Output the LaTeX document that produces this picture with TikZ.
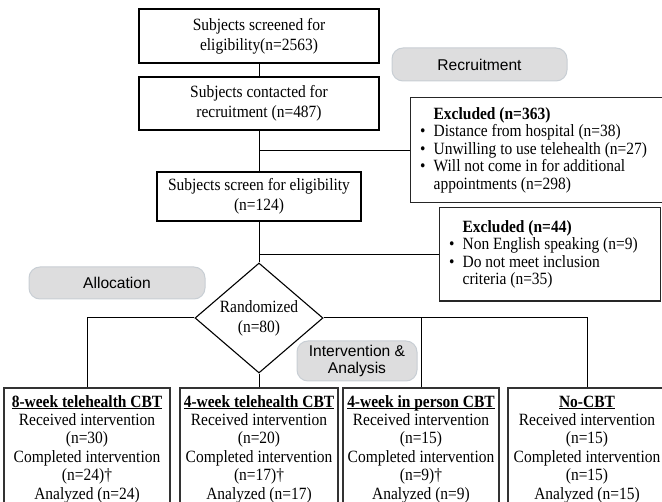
\documentclass[tikz,border=0pt]{standalone}
\usepackage{fontspec}
\setmainfont{Liberation Serif}[FakeStretch=0.9]
\setsansfont{Liberation Sans}
\usetikzlibrary{shapes.geometric}

\definecolor{phasefill}{RGB}{221,221,222}
\definecolor{phaseline}{RGB}{200,206,212}

% underlined arm title, rule close to the baseline
\newcommand{\armtitle}[1]{\underline{\smash{\textbf{#1}}}\strut}

\begin{document}
\begin{tikzpicture}[x=1pt,y=-1pt,
    font=\fontsize{17.2}{19.8}\selectfont,
    stagebox/.style={draw, line width=1.1pt, align=center, inner sep=0pt},
    exclbox/.style={draw=black!85, line width=1.3pt, anchor=north west, align=left,
        inner xsep=23pt, font=\fontsize{17.2}{17.6}\selectfont},
    armbox/.style={draw=black!80, line width=1.6pt, anchor=north, align=center,
        inner xsep=0pt, inner ysep=6.5pt, font=\fontsize{17.2}{18.4}\selectfont},
    phase/.style={rounded corners=11pt, fill=phasefill, draw=phaseline, line width=1pt,
        align=center, inner sep=0pt, font=\sffamily\fontsize{15.6}{17}\selectfont},
    link/.style={line width=1pt}]
    \useasboundingbox (0,0) rectangle (662,502);

    % Screening and recruitment
    \node[stagebox, minimum width=240, minimum height=54] (screened) at (259,36) {Subjects screened for\\eligibility(n=2563)};
    \node[stagebox, minimum width=240, minimum height=53] (contacted) at (259,103.5) {Subjects contacted for\\recruitment (n=487)};
    \node[stagebox, minimum width=204, minimum height=49] (eligible) at (259,196.5) {Subjects screen for eligibility\\(n=124)};
    \node[draw, diamond, aspect=1.16, line width=1.1pt, inner sep=0pt, align=center,
        minimum width=128, minimum height=110] (random) at (259,318) {Randomized\\(n=80)};

    % Exclusions
    \node[exclbox, inner ysep=9.5pt] (excl1) at (410,97) {\textbf{Excluded (n=363)}\\
        \llap{\textbullet\hspace{8pt}}Distance from hospital (n=38)\\
        \llap{\textbullet\hspace{8pt}}Unwilling to use telehealth (n=27)\\
        \llap{\textbullet\hspace{8pt}}Will not come in for additional\\
        appointments (n=298)};
    \node[exclbox, inner ysep=12.5pt] (excl2) at (439,207) {\textbf{Excluded (n=44)}\\
        \llap{\textbullet\hspace{8pt}}Non English speaking (n=9)\\
        \llap{\textbullet\hspace{8pt}}Do not meet inclusion\\
        criteria (n=35)};

    % Phase labels
    \node[phase, minimum width=175, minimum height=33] (recruit) at (479.5,64.5) {Recruitment};
    \node[phase, minimum width=176, minimum height=32] (alloc) at (117,283) {Allocation};
    \node[phase, minimum width=120, minimum height=40] (interv) at (357,361) {Intervention \&\\Analysis};

    % Study arms
    \node[armbox, minimum width=166] (arm8) at (87,387) {\armtitle{8-week telehealth CBT}\\
        Received intervention\\(n=30)\\Completed intervention\\(n=24)\textdagger\\Analyzed (n=24)};
    \node[armbox, minimum width=158] (arm4) at (259,387) {\armtitle{4-week telehealth CBT}\\
        Received intervention\\(n=20)\\Completed intervention\\(n=17)\textdagger\\Analyzed (n=17)};
    \node[armbox, minimum width=156] (armperson) at (421,387) {\armtitle{4-week in person CBT}\\
        Received intervention\\(n=15)\\Completed intervention\\(n=9)\textdagger\\Analyzed (n=9)};
    \node[armbox, minimum width=158] (armno) at (587,387) {\armtitle{No-CBT}\\
        Received intervention\\(n=15)\\Completed intervention\\(n=15)\\Analyzed (n=15)};

    % Connectors
    \draw[link] (screened) -- (contacted);
    \draw[link] (contacted) -- (eligible);
    \draw[link] (contacted.south |- excl1.west) -- (excl1.west);
    \draw[link] (eligible) -- (random);
    \draw[link] (eligible.south |- excl2.west) -- (excl2.west);
    \draw[link] (random.west) -| (arm8.north);
    \draw[link] (random.east) -| (armno.north);
    \draw[link] (armperson.north |- random.east) -- (armperson.north);
    \draw[link] (random.south) -- (arm4.north);
\end{tikzpicture}
\end{document}
